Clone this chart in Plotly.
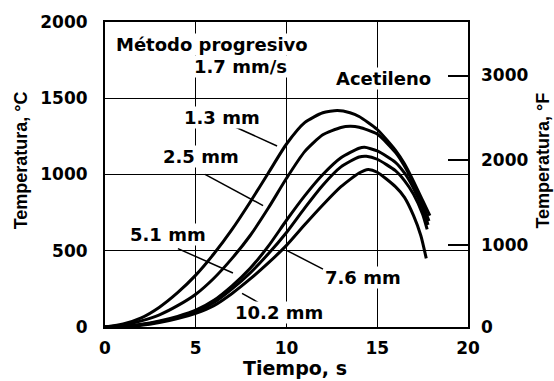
import plotly.graph_objects as go

# ---- data ----
t_13 = [0, 1, 2, 3, 4, 5, 6, 7, 8, 9, 10, 11, 12, 12.8, 13.5, 14, 15, 16, 16.5, 17, 17.5, 17.9]
T_13 = [0, 20, 60, 130, 225, 340, 480, 640, 820, 1010, 1200, 1340, 1405, 1419, 1405, 1380, 1295, 1160, 1070, 955, 830, 730]

t_25 = [0, 1, 2, 3, 4, 5, 6, 7, 8, 9, 10, 11, 12, 13, 13.5, 14, 15, 16, 16.5, 17, 17.5, 17.85]
T_25 = [0, 12, 40, 80, 140, 215, 320, 450, 600, 780, 975, 1150, 1260, 1308, 1316, 1310, 1265, 1145, 1055, 940, 805, 695]

t_51 = [0, 1, 2, 3, 4, 5, 6, 7, 8, 9, 10, 11, 12, 13, 14, 14.3, 15, 16, 16.5, 17, 17.5, 17.8]
T_51 = [0, 5, 18, 40, 70, 110, 175, 270, 385, 530, 700, 860, 1000, 1110, 1172, 1178, 1155, 1080, 1010, 910, 780, 670]

t_76 = [0, 1, 2, 3, 4, 5, 6, 7, 8, 9, 10, 11, 12, 13, 14, 14.4, 15, 16, 16.5, 17, 17.5, 17.75]
T_76 = [0, 4, 15, 35, 62, 100, 160, 250, 355, 480, 620, 780, 930, 1050, 1115, 1120, 1100, 1025, 960, 870, 740, 640]

t_102 = [0, 1, 2, 3, 4, 5, 6, 7, 8, 9, 10, 11, 12, 13, 14, 14.5, 15, 16, 16.5, 17, 17.4, 17.7]
T_102 = [0, 3, 12, 30, 55, 90, 140, 220, 315, 420, 535, 670, 800, 920, 1010, 1033, 1015, 920, 850, 730, 600, 450]

x_ticks = [0, 5, 10, 15, 20]
yC_ticks = [0, 500, 1000, 1500, 2000]
yF_ticks = [0, 1000, 2000, 3000]

curve_labels = ["1.3 mm", "2.5 mm", "5.1 mm", "7.6 mm", "10.2 mm"]
label_pos = [(6.45, 1376), (5.29, 1116), (3.47, 604), (14.21, 322), (9.59, 92)]
leaders = [((7.11, 1315), (9.48, 1187)),
           ((5.51, 1001), (8.71, 796)),
           ((4.02, 514), (7.05, 354)),
           ((10.03, 501), (12.01, 380)),
           ((7.55, 220), (8.43, 162))]

FONT_H = "DejaVu Sans"
FONT_V = "Liberation Sans"

fig = go.Figure()
for tx, ty in [(t_13, T_13), (t_25, T_25), (t_51, T_51), (t_76, T_76), (t_102, T_102)]:
    fig.add_trace(go.Scatter(x=tx, y=ty, mode="lines",
                             line=dict(color="black", width=3, shape="spline", smoothing=0.6),
                             showlegend=False, hoverinfo="skip"))
# dummy trace for the right (°F) axis
fig.add_trace(go.Scatter(x=[None], y=[None], yaxis="y2", showlegend=False, hoverinfo="skip"))

def f_to_c(f):
    return (f - 32) * 5 / 9

yF_pos = [0] + [f_to_c(f) for f in yF_ticks[1:]]

tickfont = dict(family=FONT_H, size=17, color="black", weight="bold")
fig.update_layout(
    width=554, height=381,
    margin=dict(l=105, r=86, t=15, b=54),
    paper_bgcolor="white", plot_bgcolor="white",
    xaxis=dict(range=[0, 20], tickvals=x_ticks, showgrid=True, gridcolor="black", gridwidth=1,
               showline=True, linecolor="black", linewidth=2, mirror=True, ticks="",
               zeroline=False, tickfont=tickfont, ticklabelstandoff=5),
    yaxis=dict(range=[0, 2000], tickvals=yC_ticks, showgrid=True, gridcolor="black", gridwidth=1.3,
               showline=True, linecolor="black", linewidth=2, mirror=True, ticks="",
               zeroline=False, tickfont=tickfont, ticklabelstandoff=12),
    yaxis2=dict(range=[0, 2000], overlaying="y", side="right", anchor="x",
                tickvals=yF_pos, ticktext=[str(v) for v in yF_ticks],
                ticks="inside", ticklen=20, tickwidth=1.5, tickcolor="black",
                showgrid=False, showline=False, zeroline=False, tickfont=tickfont,
                ticklabelstandoff=12),
)

ann_font = dict(family=FONT_H, size=18, color="black", weight="bold")
def label(x, y, txt, **kw):
    fig.add_annotation(x=x, y=y, xref="x", yref="y", text=txt, showarrow=False,
                       xanchor="center", yanchor="middle",
                       font=ann_font, bgcolor="white", borderpad=0, **kw)

for txt, (x, y) in zip(curve_labels, label_pos):
    label(x, y, txt)
for (x0, y0), (x1, y1) in leaders:
    fig.add_shape(type="line", x0=x0, y0=y0, x1=x1, y1=y1, xref="x", yref="y",
                  line=dict(color="black", width=1.5))

label(5.9, 1853, "Método progresivo")
label(7.49, 1705, "1.7 mm/s")
label(15.37, 1628, "Acetileno")

# axis titles
def title(x, y, txt, fam, size, angle=0):
    fig.add_annotation(x=x, y=y, xref="paper", yref="paper", text=txt, textangle=angle,
                       showarrow=False, xanchor="center", yanchor="middle",
                       font=dict(family=fam, size=size, color="black", weight="bold"))

title(0.523, -0.135, "Tiempo, s", FONT_H, 19)
title(-0.229, 0.546, "Temperatura, °C", FONT_V, 18, -90)
title(1.207, 0.546, "Temperatura, °F", FONT_V, 18, -90)

fig.write_html("out.html")
